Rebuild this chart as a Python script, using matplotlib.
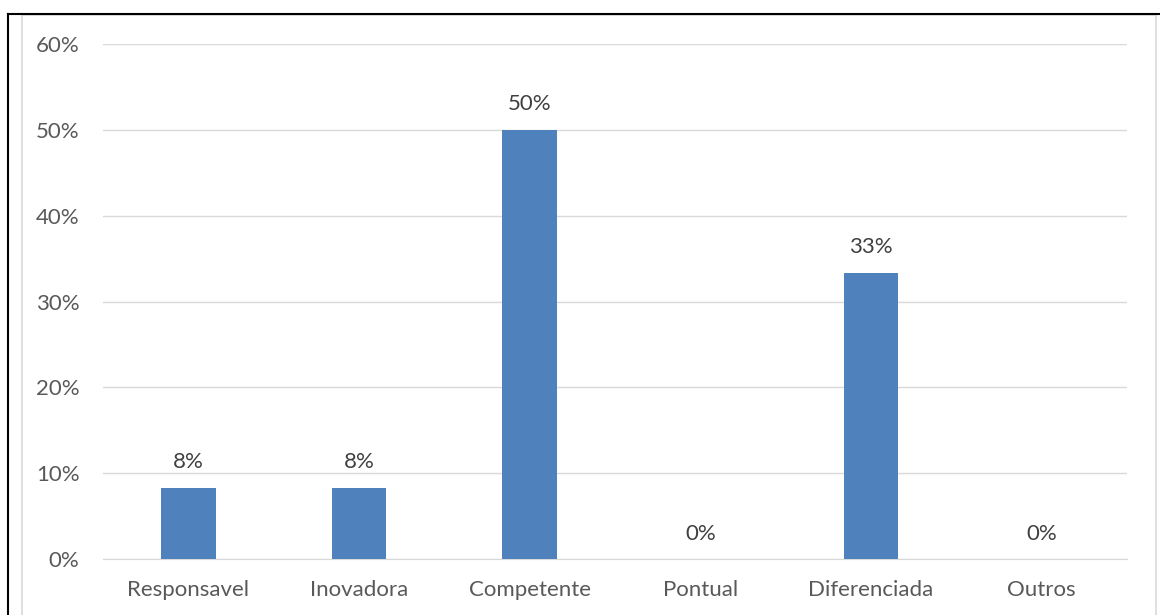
import matplotlib.pyplot as plt
from matplotlib.lines import Line2D

categories = ["Responsavel", "Inovadora", "Competente", "Pontual", "Diferenciada", "Outros"]
values = [8.33, 8.33, 50.0, 0.0, 33.33, 0.0]
labels = ["8%", "8%", "50%", "0%", "33%", "0%"]

plt.rcParams['font.family'] = ['Lato', 'DejaVu Sans']
FS = 16

W, H = 1160, 615
fig = plt.figure(figsize=(W / 100, H / 100), dpi=100)
ax = fig.add_axes([103 / W, 1 - 559 / H, (1127 - 103) / W, (559 - 44) / H])

x = range(len(categories))
ax.bar(x, values, width=0.32, color="#4F81BD", zorder=3)
for i, v in enumerate(values):
    ax.text(i, v + 1.8, labels[i], ha="center", va="bottom", fontsize=FS, color="#404040")

ax.set_xlim(-0.5, len(categories) - 0.5)
ax.set_ylim(0, 60)
ax.set_yticks(range(0, 61, 10))
ax.set_yticklabels([f"{t}%" for t in range(0, 61, 10)])
ax.set_xticks(list(x))
ax.set_xticklabels(categories)
ax.tick_params(axis="both", length=0, labelsize=FS, labelcolor="#595959")
ax.tick_params(axis="y", pad=17)
ax.tick_params(axis="x", pad=15)
ax.grid(axis="y", color="#D9D9D9", linewidth=1, zorder=0)
for s in ["top", "right", "left"]:
    ax.spines[s].set_visible(False)
ax.spines["bottom"].set_color("#D9D9D9")

# chart frame (gray) and outer black border
fig.add_artist(Line2D([22 / W, 22 / W], [1 - 15 / H, 0], color="#D9D9D9", lw=1.2))
fig.add_artist(Line2D([1156 / W, 1156 / W], [1 - 15 / H, 0], color="#D9D9D9", lw=1.2))
fig.add_artist(Line2D([22 / W, 1156 / W], [1 - 15 / H, 1 - 15 / H], color="#D9D9D9", lw=1.2))
fig.add_artist(Line2D([8 / W, 1.0], [1 - 13.5 / H, 1 - 13.5 / H], color="black", lw=1.5))
fig.add_artist(Line2D([8 / W, 8 / W], [1 - 13.5 / H, 0], color="black", lw=1.5))

fig.savefig("out.png", dpi=100)
